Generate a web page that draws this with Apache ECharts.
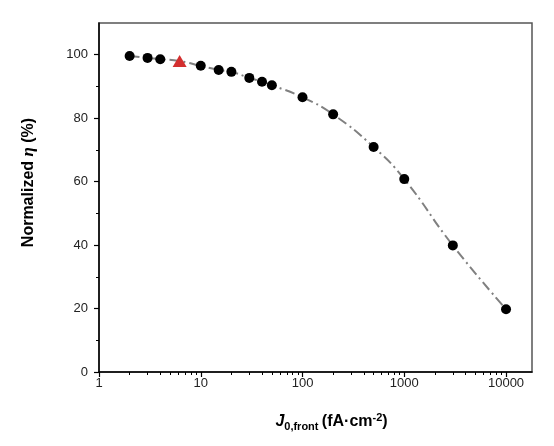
<!DOCTYPE html>
<html>
<head>
<meta charset="utf-8">
<script src="https://cdn.jsdelivr.net/npm/echarts@6/dist/echarts.min.js"></script>
<style>
  html, body { margin: 0; padding: 0; background: #fff; }
  #chart_container { width: 554px; height: 446px; }
</style>
</head>
<body>
<div id="chart_container"></div>
<script>
// measured points (black circles)
const jFront = [2, 3, 4, 10, 15, 20, 30, 40, 50, 100, 200, 500, 1000, 3000, 10000]
const etaNorm = [99.6, 99.0, 98.6, 96.5, 95.2, 94.6, 92.7, 91.5, 90.4, 86.6, 81.2, 70.9, 60.8, 39.9, 19.8]

// highlighted point (red triangle)
const markJ = [6.2]
const markEta = [98.0]

// tick positions
const xMajorTicks = [1, 10, 100, 1000, 10000]
const xMinorTicks = [2, 3, 4, 5, 6, 7, 8, 9, 20, 30, 40, 50, 60, 70, 80, 90,
    200, 300, 400, 500, 600, 700, 800, 900, 2000, 3000, 4000, 5000, 6000, 7000, 8000, 9000]
const yMajorTicks = [0, 20, 40, 60, 80, 100]
const yMinorTicks = [10, 30, 50, 70, 90]

const fontFam = 'Liberation Sans'

function pairs(xs, ys){
    return xs.map((x, i) => [x, ys[i]])
}

let circles = pairs(jFront, etaNorm)
let triangle = pairs(markJ, markEta)
// the guide line goes through every point, sorted by x
let linePts = circles.concat(triangle).sort((a, b) => a[0] - b[0])

var chart = echarts.init(document.getElementById('chart_container'));

var option = {
    animation: false,
    grid: {
        left: 99, right: 22, top: 23, bottom: 74,
        show: true, borderColor: '#555', borderWidth: 1.5
    },
    xAxis: [
        {
            type: 'log', logBase: 10, min: 1, max: 18000,
            axisLine: { show: true, lineStyle: { color: '#000', width: 1.5 } },
            axisTick: { show: true, length: 5, inside: false, customValues: xMajorTicks,
                        lineStyle: { color: '#000', width: 1.2 } },
            axisLabel: { customValues: xMajorTicks, margin: 5, color: '#222',
                         fontFamily: fontFam, fontSize: 13,
                         formatter: v => String(Math.round(v)) },
            splitLine: { show: false },
            name: '{i|J}{sub|0,front} {b|(fA·cm}{sup|-2}{b|)}',
            nameLocation: 'middle', nameGap: 40,
            nameTextStyle: {
                padding: [0, 0, 0, 32],
                rich: {
                    i: { fontFamily: fontFam, fontSize: 16, fontWeight: 'bold', fontStyle: 'italic', color: '#000' },
                    b: { fontFamily: fontFam, fontSize: 16, fontWeight: 'bold', color: '#000' },
                    sub: { fontFamily: fontFam, fontSize: 11, fontWeight: 'bold', color: '#000', padding: [9, 0, 0, 0] },
                    sup: { fontFamily: fontFam, fontSize: 11, fontWeight: 'bold', color: '#000', padding: [0, 0, 9, 0] }
                }
            }
        },
        {
            // minor ticks only
            type: 'log', logBase: 10, min: 1, max: 18000, position: 'bottom',
            axisLine: { show: false },
            axisTick: { show: true, length: 3, customValues: xMinorTicks,
                        lineStyle: { color: '#000', width: 1 } },
            axisLabel: { show: false },
            splitLine: { show: false }
        }
    ],
    yAxis: [
        {
            type: 'value', min: 0, max: 110,
            axisLine: { show: true, lineStyle: { color: '#000', width: 1.5 } },
            axisTick: { show: true, length: 5, customValues: yMajorTicks,
                        lineStyle: { color: '#000', width: 1.2 } },
            axisLabel: { customValues: yMajorTicks, margin: 11, color: '#222',
                         fontFamily: fontFam, fontSize: 13 },
            splitLine: { show: false },
            name: 'Normalized {e|η} (%)',
            nameLocation: 'middle', nameGap: 62,
            nameTextStyle: {
                fontFamily: fontFam, fontSize: 16, fontWeight: 'bold', color: '#000',
                padding: [0, 0, 0, 30],
                rich: {
                    e: { fontFamily: 'Liberation Serif', fontSize: 17, fontStyle: 'italic', color: '#000' }
                }
            }
        },
        {
            type: 'value', min: 0, max: 110, position: 'left',
            axisLine: { show: false },
            axisTick: { show: true, length: 3, customValues: yMinorTicks,
                        lineStyle: { color: '#000', width: 1 } },
            axisLabel: { show: false },
            splitLine: { show: false }
        }
    ],
    series: [
        {
            name: 'guide', type: 'line', data: linePts,
            smooth: true, showSymbol: false, symbol: 'none',
            lineStyle: { color: '#808080', width: 2, type: [10, 4, 2, 4] },
            z: 1
        },
        {
            name: 'J0 front', type: 'scatter', data: circles,
            symbol: 'circle', symbolSize: 10,
            itemStyle: { color: '#000', opacity: 1 }, z: 3
        },
        {
            name: 'marked', type: 'scatter', data: triangle,
            symbol: 'triangle', symbolSize: [14, 12],
            itemStyle: { color: '#d32f2f', opacity: 1 }, z: 4
        }
    ]
};

if (chart){
    chart.setOption(option);
}else{
    console.error("Echart instance failed to init")
}
</script>
</body>
</html>
